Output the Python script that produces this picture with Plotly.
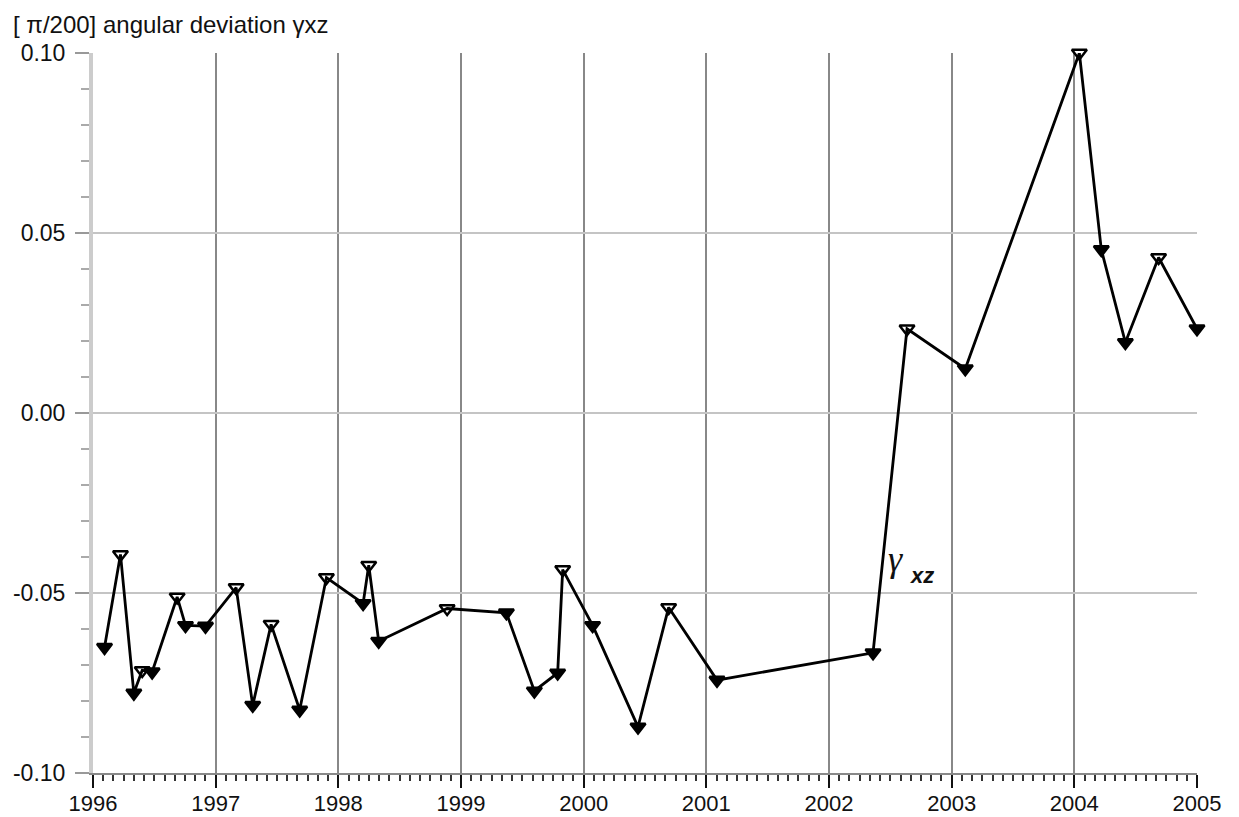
import plotly.graph_objects as go

# decimal years of each measurement epoch
epochs = [1996.094, 1996.224, 1996.333, 1996.401, 1996.482, 1996.686, 1996.754, 1996.917,
          1997.167, 1997.302, 1997.452, 1997.685, 1997.903, 1998.202, 1998.248, 1998.329,
          1998.887, 1999.370, 1999.598, 1999.788, 1999.829, 2000.073, 2000.443, 2000.693,
          2001.087, 2002.359, 2002.636, 2003.111, 2004.041, 2004.220, 2004.416, 2004.687,
          2005.000]
# angular deviation gamma_xz [pi/200]
gamma_xz = [-0.0651, -0.0393, -0.0778, -0.0715, -0.0719, -0.0511, -0.0590, -0.0592,
            -0.0485, -0.0812, -0.0587, -0.0825, -0.0457, -0.0529, -0.0423, -0.0634,
            -0.0543, -0.0555, -0.0772, -0.0722, -0.0435, -0.0590, -0.0872, -0.0540,
            -0.0742, -0.0666, 0.0234, 0.0123, 0.1000, 0.0454, 0.0196, 0.0432,
            0.0234]

x_ticks = [1996, 1997, 1998, 1999, 2000, 2001, 2002, 2003, 2004, 2005]
x_tick_labels = [str(v) for v in x_ticks]
y_ticks = [-0.10, -0.05, 0.00, 0.05, 0.10]
y_tick_labels = ["-0.10", "-0.05", "0.00", "0.05", "0.10"]

# open triangle at local peaks, filled elsewhere
symbols = []
n = len(gamma_xz)
for i, v in enumerate(gamma_xz):
    prev_v = gamma_xz[i - 1] if i > 0 else -1e9
    next_v = gamma_xz[i + 1] if i < n - 1 else -1e9
    symbols.append("triangle-down-open" if (v > prev_v and v > next_v) else "triangle-down")

FONT = "Liberation Sans, Arial, sans-serif"

fig = go.Figure()
fig.add_trace(go.Scatter(
    x=epochs, y=gamma_xz, mode="lines+markers",
    line=dict(color="black", width=2.8),
    marker=dict(symbol=symbols, size=13, color="black",
                line=dict(color="black", width=2.5)),
    cliponaxis=False, showlegend=False,
))

fig.add_annotation(x=2002.545, y=-0.0405, text="<i>γ</i>", showarrow=False,
                   font=dict(family="Liberation Serif, serif", size=36, color="#111"),
                   xanchor="center", yanchor="middle")
fig.add_annotation(x=2002.76, y=-0.0452, text="<b><i>xz</i></b>", showarrow=False,
                   font=dict(family=FONT, size=22, color="#111"),
                   xanchor="center", yanchor="middle")

fig.add_annotation(xref="paper", yref="paper", x=-0.074, y=1.0, yshift=29,
                   text="[ π/200] angular deviation γxz", showarrow=False,
                   xanchor="left", yanchor="middle",
                   font=dict(family=FONT, size=24, color="#111"))

fig.update_layout(
    width=1231, height=809,
    margin=dict(l=84.5, r=42.3, t=44.7, b=43.7, autoexpand=False),
    paper_bgcolor="white", plot_bgcolor="white",
    font=dict(family=FONT, size=23, color="#111"),
)
fig.update_xaxes(
    range=[1996, 2005], tickvals=x_ticks, ticktext=x_tick_labels,
    showgrid=True, gridcolor="#888888", gridwidth=2,
    showline=True, linecolor="#888888", linewidth=2,
    ticks="outside", ticklen=13, tickwidth=2, tickcolor="#111",
    minor=dict(dtick=1 / 12, ticks="outside", ticklen=6, tickwidth=1.5,
               tickcolor="#333", showgrid=False),
    zeroline=False, tickfont=dict(size=22), automargin=False,
    ticklabelstandoff=-3,
)
fig.update_yaxes(
    range=[-0.10, 0.10], tickvals=y_ticks, ticktext=y_tick_labels,
    showgrid=True, gridcolor="#c4c4c4", gridwidth=2,
    showline=True, linecolor="#cccccc", linewidth=4,
    ticks="outside", ticklen=14, tickwidth=2, tickcolor="#999999",
    minor=dict(dtick=0.01, ticks="outside", ticklen=8, tickwidth=1.5,
               tickcolor="#aaaaaa", showgrid=False),
    zeroline=False, tickfont=dict(size=23), automargin=False,
    ticklabelstandoff=5,
)

fig.write_html("out.html")
